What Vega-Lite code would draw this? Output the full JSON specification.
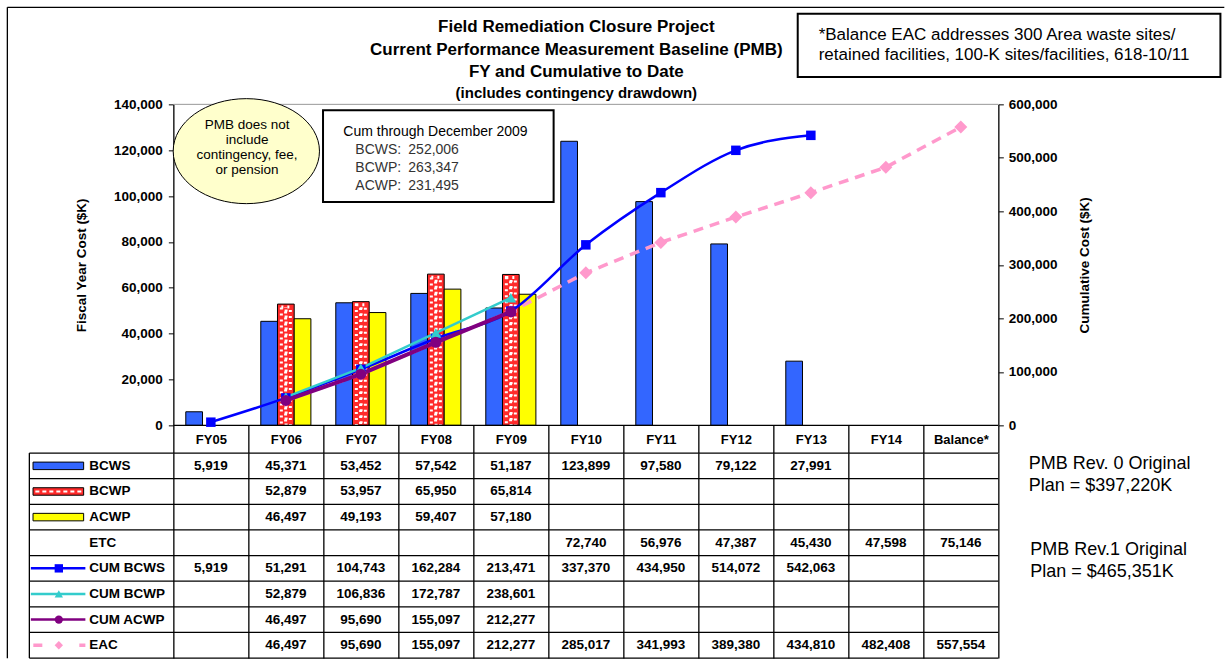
{
  "$schema": "https://vega.github.io/schema/vega-lite/v6.json",
  "padding": {"left": 6.35, "top": 6.35, "right": 0, "bottom": 0},
  "background": "white",
  "config": {
    "view": {"stroke": null},
    "font": "Liberation Sans",
    "axis": {"labelFont": "Liberation Sans", "titleFont": "Liberation Sans", "labelColor": "black", "titleColor": "black", "domainColor": "black", "tickColor": "black"}
  },
  "datasets": {
    "vals": [
      {"series": "BCWS", "fy": "FY05", "v": 5919}, {"series": "BCWS", "fy": "FY06", "v": 45371}, {"series": "BCWS", "fy": "FY07", "v": 53452}, {"series": "BCWS", "fy": "FY08", "v": 57542}, {"series": "BCWS", "fy": "FY09", "v": 51187}, {"series": "BCWS", "fy": "FY10", "v": 123899}, {"series": "BCWS", "fy": "FY11", "v": 97580}, {"series": "BCWS", "fy": "FY12", "v": 79122}, {"series": "BCWS", "fy": "FY13", "v": 27991},
      {"series": "BCWP", "fy": "FY06", "v": 52879}, {"series": "BCWP", "fy": "FY07", "v": 53957}, {"series": "BCWP", "fy": "FY08", "v": 65950}, {"series": "BCWP", "fy": "FY09", "v": 65814},
      {"series": "ACWP", "fy": "FY06", "v": 46497}, {"series": "ACWP", "fy": "FY07", "v": 49193}, {"series": "ACWP", "fy": "FY08", "v": 59407}, {"series": "ACWP", "fy": "FY09", "v": 57180},
      {"series": "ETC", "fy": "FY10", "v": 72740}, {"series": "ETC", "fy": "FY11", "v": 56976}, {"series": "ETC", "fy": "FY12", "v": 47387}, {"series": "ETC", "fy": "FY13", "v": 45430}, {"series": "ETC", "fy": "FY14", "v": 47598}, {"series": "ETC", "fy": "Balance*", "v": 75146},
      {"series": "CUM BCWS", "fy": "FY05", "v": 5919}, {"series": "CUM BCWS", "fy": "FY06", "v": 51291}, {"series": "CUM BCWS", "fy": "FY07", "v": 104743}, {"series": "CUM BCWS", "fy": "FY08", "v": 162284}, {"series": "CUM BCWS", "fy": "FY09", "v": 213471}, {"series": "CUM BCWS", "fy": "FY10", "v": 337370}, {"series": "CUM BCWS", "fy": "FY11", "v": 434950}, {"series": "CUM BCWS", "fy": "FY12", "v": 514072}, {"series": "CUM BCWS", "fy": "FY13", "v": 542063},
      {"series": "CUM BCWP", "fy": "FY06", "v": 52879}, {"series": "CUM BCWP", "fy": "FY07", "v": 106836}, {"series": "CUM BCWP", "fy": "FY08", "v": 172787}, {"series": "CUM BCWP", "fy": "FY09", "v": 238601},
      {"series": "CUM ACWP", "fy": "FY06", "v": 46497}, {"series": "CUM ACWP", "fy": "FY07", "v": 95690}, {"series": "CUM ACWP", "fy": "FY08", "v": 155097}, {"series": "CUM ACWP", "fy": "FY09", "v": 212277},
      {"series": "EAC", "fy": "FY06", "v": 46497}, {"series": "EAC", "fy": "FY07", "v": 95690}, {"series": "EAC", "fy": "FY08", "v": 155097}, {"series": "EAC", "fy": "FY09", "v": 212277}, {"series": "EAC", "fy": "FY10", "v": 285017}, {"series": "EAC", "fy": "FY11", "v": 341993}, {"series": "EAC", "fy": "FY12", "v": 389380}, {"series": "EAC", "fy": "FY13", "v": 434810}, {"series": "EAC", "fy": "FY14", "v": 482408}, {"series": "EAC", "fy": "Balance*", "v": 557554}
    ],
    "rows": [
      {"s": "BCWS", "kind": "bar"}, {"s": "BCWP", "kind": "bar"}, {"s": "ACWP", "kind": "bar"}, {"s": "ETC", "kind": "none"},
      {"s": "CUM BCWS", "kind": "line"}, {"s": "CUM BCWP", "kind": "line"}, {"s": "CUM ACWP", "kind": "line"}, {"s": "EAC", "kind": "dash"}
    ]
  },
  "spacing": 27.7,
  "bounds": "flush",
  "vconcat": [
    {
      "width": 975,
      "height": 321,
      "layer": [
        {
          "layer": [
            {
              "data": {"name": "vals"},
              "transform": [{"filter": {"field": "series", "oneOf": ["BCWS", "BCWP", "ACWP"]}}],
              "mark": {"type": "bar", "stroke": "black", "strokeWidth": 1},
              "encoding": {
                "x": {"field": "fy", "type": "nominal", "sort": null,
                  "scale": {"domain": ["sw", "lbl", "FY05", "FY06", "FY07", "FY08", "FY09", "FY10", "FY11", "FY12", "FY13", "FY14", "Balance*"], "paddingInner": 0, "paddingOuter": 0},
                  "axis": {"values": ["FY05", "FY06", "FY07", "FY08", "FY09", "FY10", "FY11", "FY12", "FY13", "FY14", "Balance*"], "tickBand": "extent", "tickSize": 27.7, "tickWidth": 1.3, "labelPadding": -20, "domain": false, "title": null, "labelAngle": 0, "labelFontSize": 13, "labelFontWeight": "bold", "labelOverlap": false, "grid": false}},
                "xOffset": {"field": "series", "type": "nominal", "scale": {"domain": ["BCWS", "BCWP", "ACWP"], "paddingInner": 0, "paddingOuter": 0.745}},
                "y": {"field": "v", "type": "quantitative", "scale": {"domain": [0, 140000], "nice": false},
                  "axis": {"offset": -150, "values": [0, 20000, 40000, 60000, 80000, 100000, 120000, 140000], "format": ",", "labelExpr": "format(datum.value, ',')", "title": "Fiscal Year Cost ($K)", "titleFontSize": 13.5, "titleFontWeight": "bold", "labelFontSize": 13.5, "labelFontWeight": "bold", "tickSize": 5, "labelPadding": 6, "titlePadding": 25, "grid": false, "domainWidth": 1.3}},
                "color": {"field": "series", "type": "nominal", "legend": null,
                  "scale": {"domain": ["BCWS", "BCWP", "ACWP", "ETC", "CUM BCWS", "CUM BCWP", "CUM ACWP", "EAC"], "range": ["#3366FF", "#FF2A2A", "#FFFF00", "#FFFFFF", "#0000FF", "#33CCCC", "#800080", "#FF99CC"]}}
              }
            },
            {
              "data": {"name": "vals"},
              "transform": [{"filter": "datum.series == 'BCWP'"}],
              "mark": {"type": "bar", "width": 9, "fill": "transparent", "stroke": "white", "strokeWidth": 3, "strokeDash": [2, 4], "yOffset": 3, "y2Offset": -2},
              "encoding": {
                "x": {"field": "fy", "type": "nominal"},
                "xOffset": {"field": "series", "type": "nominal"},
                "y": {"field": "v", "type": "quantitative"}
              }
            },
            {
              "data": {"name": "vals"},
              "transform": [{"filter": "datum.series == 'BCWP'"}],
              "mark": {"type": "bar", "width": 0.5, "fill": "transparent", "stroke": "white", "strokeWidth": 3, "strokeDash": [2, 4], "strokeDashOffset": 3, "yOffset": 3, "y2Offset": -2},
              "encoding": {
                "x": {"field": "fy", "type": "nominal"},
                "xOffset": {"field": "series", "type": "nominal"},
                "y": {"field": "v", "type": "quantitative"}
              }
            },
            {
              "data": {"values": [{}]},
              "mark": {"type": "rule", "color": "#999999", "strokeWidth": 1},
              "encoding": {"x": {"datum": "FY05", "bandPosition": 0}, "x2": {"datum": "Balance*", "bandPosition": 1}, "y": {"datum": 140000}}
            },
            {
              "data": {"values": [{}]},
              "mark": {"type": "rule", "color": "black", "strokeWidth": 1.3},
              "encoding": {"x": {"datum": "FY05", "bandPosition": 0}, "x2": {"datum": "Balance*", "bandPosition": 1}, "y": {"datum": 0}}
            },
            {
              "data": {"values": [{}]},
              "mark": {"type": "rule", "color": "black", "strokeWidth": 1.3},
              "encoding": {"x": {"datum": "sw", "bandPosition": -0.2133}, "x2": {"datum": "Balance*", "bandPosition": 4.013}, "y": {"datum": 182305}}
            },
            {
              "data": {"values": [{}]},
              "mark": {"type": "rule", "color": "black", "strokeWidth": 1.3},
              "encoding": {"x": {"datum": "sw", "bandPosition": -0.2133}, "y": {"datum": 182305}, "y2": {"datum": -101600}}
            },
            {
              "data": {"values": [{}]},
              "mark": {"type": "point", "shape": "M-1,0A1,0.7177,0,1,1,1,0A1,0.7177,0,1,1,-1,0Z", "size": 21404, "filled": true, "fill": "#FFFFCC", "stroke": "black", "strokeWidth": 1, "opacity": 1},
              "encoding": {"x": {"datum": "FY05", "bandPosition": 0.973}, "y": {"datum": 119589}}
            },
            {
              "data": {"values": [{}]},
              "mark": {"type": "text", "text": ["PMB does not", "include", "contingency, fee,", "or pension"], "fontSize": 13.5, "lineHeight": 15, "align": "center", "baseline": "middle", "color": "black"},
              "encoding": {"x": {"datum": "FY05", "bandPosition": 0.983}, "y": {"datum": 130841}}
            },
            {
              "data": {"values": [{}]},
              "mark": {"type": "point", "shape": "M-1,-0.3977H1V0.3977H-1Z", "size": 53176, "filled": true, "fill": "white", "stroke": "black", "strokeWidth": 2, "opacity": 1},
              "encoding": {"x": {"datum": "FY08", "bandPosition": 0.533}, "y": {"datum": 117386}}
            },
            {
              "data": {"values": [{}]},
              "mark": {"type": "text", "text": "Cum through December 2009", "fontSize": 14, "align": "left", "baseline": "middle", "color": "black"},
              "encoding": {"x": {"datum": "FY07", "bandPosition": 0.267}, "y": {"datum": 127919}}
            },
            {
              "data": {"values": [{}]},
              "mark": {"type": "text", "text": ["BCWS:", "BCWP:", "ACWP:"], "fontSize": 14, "lineHeight": 18.3, "align": "left", "baseline": "middle", "color": "#333333"},
              "encoding": {"x": {"datum": "FY07", "bandPosition": 0.427}, "y": {"datum": 120243}}
            },
            {
              "data": {"values": [{}]},
              "mark": {"type": "text", "text": ["252,006", "263,347", "231,495"], "fontSize": 14, "lineHeight": 18.3, "align": "left", "baseline": "middle", "color": "#333333"},
              "encoding": {"x": {"datum": "FY08", "bandPosition": 0.133}, "y": {"datum": 120243}}
            },
            {
              "data": {"values": [{}]},
              "mark": {"type": "point", "shape": "M-1,-0.15H1V0.15H-1Z", "size": 178675, "filled": true, "fill": "white", "stroke": "black", "strokeWidth": 2, "opacity": 1},
              "encoding": {"x": {"datum": "Balance*", "bandPosition": 1.143}, "y": {"datum": 165732}}
            },
            {
              "data": {"values": [{}]},
              "mark": {"type": "text", "text": ["*Balance EAC addresses 300 Area waste sites/", "retained facilities, 100-K sites/facilities, 618-10/11"], "fontSize": 17, "lineHeight": 20, "align": "left", "baseline": "middle", "color": "black"},
              "encoding": {"x": {"datum": "FY13", "bandPosition": 0.604}, "y": {"datum": 170093}}
            },
            {
              "data": {"values": [{}]},
              "mark": {"type": "text", "text": ["Field Remediation Closure Project", "Current Performance Measurement Baseline (PMB)", "FY and Cumulative to Date"], "fontSize": 17, "fontWeight": "bold", "lineHeight": 22.5, "align": "center", "baseline": "middle", "color": "black"},
              "encoding": {"x": {"datum": "FY10", "bandPosition": 0.373}, "y": {"datum": 173583}}
            },
            {
              "data": {"values": [{}]},
              "mark": {"type": "text", "text": "(includes contingency drawdown)", "fontSize": 15, "fontWeight": "bold", "align": "center", "baseline": "middle", "color": "black"},
              "encoding": {"x": {"datum": "FY10", "bandPosition": 0.373}, "y": {"datum": 144797}}
            }
          ]
        },
        {
          "layer": [
            {
              "data": {"name": "vals"},
              "transform": [{"filter": "datum.series == 'EAC'"}],
              "mark": {"type": "line", "color": "#FF99CC", "strokeWidth": 3.5, "strokeDash": [10, 7]},
              "encoding": {
                "x": {"field": "fy", "type": "nominal"},
                "y": {"field": "v", "type": "quantitative", "scale": {"domain": [0, 600000], "nice": false},
                  "axis": {"orient": "right", "values": [0, 100000, 200000, 300000, 400000, 500000, 600000], "format": ",", "labelExpr": "format(datum.value, ',')", "title": "Cumulative Cost ($K)", "titleAngle": 270, "titleBaseline": "top", "titleFontSize": 13.5, "titleFontWeight": "bold", "labelFontSize": 13.5, "labelFontWeight": "bold", "tickSize": 5, "labelPadding": 5, "titlePadding": 20, "grid": false, "domainWidth": 1.3}}
              }
            },
            {
              "data": {"name": "vals"},
              "transform": [{"filter": "datum.series == 'EAC'"}],
              "mark": {"type": "point", "shape": "diamond", "size": 169, "filled": true, "color": "#FF99CC", "opacity": 1},
              "encoding": {"x": {"field": "fy", "type": "nominal"}, "y": {"field": "v", "type": "quantitative"}}
            },
            {
              "data": {"name": "vals"},
              "transform": [{"filter": "datum.series == 'CUM BCWS'"}],
              "mark": {"type": "line", "color": "#0000FF", "strokeWidth": 2.5, "interpolate": "monotone"},
              "encoding": {"x": {"field": "fy", "type": "nominal"}, "y": {"field": "v", "type": "quantitative"}}
            },
            {
              "data": {"name": "vals"},
              "transform": [{"filter": "datum.series == 'CUM BCWP'"}],
              "mark": {"type": "line", "color": "#33CCCC", "strokeWidth": 2.5},
              "encoding": {"x": {"field": "fy", "type": "nominal"}, "y": {"field": "v", "type": "quantitative"}}
            },
            {
              "data": {"name": "vals"},
              "transform": [{"filter": "datum.series == 'CUM ACWP'"}],
              "mark": {"type": "line", "color": "#800080", "strokeWidth": 4},
              "encoding": {"x": {"field": "fy", "type": "nominal"}, "y": {"field": "v", "type": "quantitative"}}
            },
            {
              "data": {"name": "vals"},
              "transform": [{"filter": "datum.series == 'CUM BCWS'"}],
              "mark": {"type": "point", "shape": "square", "size": 90, "filled": true, "color": "#0000FF", "opacity": 1},
              "encoding": {"x": {"field": "fy", "type": "nominal"}, "y": {"field": "v", "type": "quantitative"}}
            },
            {
              "data": {"name": "vals"},
              "transform": [{"filter": "datum.series == 'CUM BCWP'"}],
              "mark": {"type": "point", "shape": "triangle-up", "size": 120, "filled": true, "color": "#33CCCC", "opacity": 1},
              "encoding": {"x": {"field": "fy", "type": "nominal"}, "y": {"field": "v", "type": "quantitative"}}
            },
            {
              "data": {"name": "vals"},
              "transform": [{"filter": "datum.series == 'CUM ACWP'"}],
              "mark": {"type": "point", "shape": "circle", "size": 121, "filled": true, "color": "#800080", "opacity": 1},
              "encoding": {"x": {"field": "fy", "type": "nominal"}, "y": {"field": "v", "type": "quantitative"}}
            }
          ]
        }
      ],
      "resolve": {"scale": {"y": "independent"}}
    },
    {
      "width": 975,
      "height": 205,
      "layer": [
        {
          "data": {"name": "vals"},
          "mark": {"type": "text", "fontWeight": "bold", "fontSize": 13.5, "color": "black"},
          "encoding": {
            "x": {"field": "fy", "type": "nominal", "sort": null,
              "scale": {"domain": ["sw", "lbl", "FY05", "FY06", "FY07", "FY08", "FY09", "FY10", "FY11", "FY12", "FY13", "FY14", "Balance*"], "paddingInner": 0, "paddingOuter": 0},
              "axis": {"orient": "top", "grid": true, "tickBand": "extent", "values": ["FY05", "FY06", "FY07", "FY08", "FY09", "FY10", "FY11", "FY12", "FY13", "FY14", "Balance*"], "labels": false, "ticks": false, "domain": false, "title": null, "gridColor": "black", "gridWidth": 1.3, "gridOpacity": 1}},
            "y": {"field": "series", "type": "nominal", "sort": null,
              "scale": {"domain": ["BCWS", "BCWP", "ACWP", "ETC", "CUM BCWS", "CUM BCWP", "CUM ACWP", "EAC"], "paddingInner": 0, "paddingOuter": 0},
              "axis": null},
            "text": {"field": "v", "type": "quantitative", "format": ","}
          }
        },
        {
          "data": {"name": "rows"},
          "mark": {"type": "rule", "color": "black", "strokeWidth": 1.3},
          "encoding": {
            "x": {"datum": "sw", "bandPosition": 0.08},
            "x2": {"datum": "Balance*", "bandPosition": 1},
            "y": {"field": "s", "type": "nominal", "bandPosition": 0}
          }
        },
        {
          "data": {"values": [{}]},
          "mark": {"type": "rule", "color": "black", "strokeWidth": 1.3},
          "encoding": {
            "x": {"datum": "sw", "bandPosition": 0.08},
            "x2": {"datum": "Balance*", "bandPosition": 1},
            "y": {"datum": "EAC", "bandPosition": 1}
          }
        },
        {
          "data": {"values": [{}]},
          "mark": {"type": "rule", "color": "black", "strokeWidth": 1.3},
          "encoding": {"x": {"datum": "sw", "bandPosition": 0.08}}
        },
        {
          "data": {"name": "rows"},
          "mark": {"type": "text", "fontWeight": "bold", "fontSize": 13.5, "align": "left", "baseline": "middle", "color": "black"},
          "encoding": {
            "x": {"datum": "lbl", "bandPosition": -0.12},
            "y": {"field": "s", "type": "nominal"},
            "text": {"field": "s", "type": "nominal"}
          }
        },
        {
          "data": {"name": "rows"},
          "transform": [{"filter": "datum.kind == 'bar'"}],
          "mark": {"type": "bar", "height": 7.5, "stroke": "black", "strokeWidth": 1},
          "encoding": {
            "x": {"datum": "sw", "bandPosition": 0.129},
            "x2": {"datum": "sw", "bandPosition": 0.804},
            "y": {"field": "s", "type": "nominal"},
            "color": {"field": "s", "type": "nominal", "legend": null,
              "scale": {"domain": ["BCWS", "BCWP", "ACWP", "ETC", "CUM BCWS", "CUM BCWP", "CUM ACWP", "EAC"], "range": ["#3366FF", "#FF2A2A", "#FFFF00", "#FFFFFF", "#0000FF", "#33CCCC", "#800080", "#FF99CC"]}}
          }
        },
        {
          "data": {"name": "rows"},
          "transform": [{"filter": "datum.s == 'BCWP'"}],
          "mark": {"type": "rule", "strokeWidth": 2, "strokeDash": [4, 3], "color": "white"},
          "encoding": {
            "x": {"datum": "sw", "bandPosition": 0.16},
            "x2": {"datum": "sw", "bandPosition": 0.78},
            "y": {"field": "s", "type": "nominal"}
          }
        },
        {
          "data": {"name": "rows"},
          "transform": [{"filter": "datum.kind == 'line'"}],
          "mark": {"type": "rule", "strokeWidth": 2.5},
          "encoding": {
            "x": {"datum": "sw", "bandPosition": 0.1},
            "x2": {"datum": "sw", "bandPosition": 0.827},
            "y": {"field": "s", "type": "nominal"},
            "color": {"field": "s", "type": "nominal", "legend": null}
          }
        },
        {
          "data": {"name": "rows"},
          "transform": [{"filter": "datum.kind == 'dash'"}],
          "mark": {"type": "rule", "strokeWidth": 3.5, "strokeDash": [9, 37], "color": "#FF99CC"},
          "encoding": {
            "x": {"datum": "sw", "bandPosition": 0.133},
            "x2": {"datum": "sw", "bandPosition": 0.827},
            "y": {"field": "s", "type": "nominal"}
          }
        },
        {
          "data": {"name": "rows"},
          "transform": [{"filter": "datum.kind == 'line' || datum.kind == 'dash'"}],
          "mark": {"type": "point", "filled": true, "size": 70, "opacity": 1},
          "encoding": {
            "x": {"datum": "sw", "bandPosition": 0.473},
            "y": {"field": "s", "type": "nominal"},
            "color": {"field": "s", "type": "nominal", "legend": null},
            "shape": {"field": "s", "type": "nominal", "legend": null, "scale": {"domain": ["CUM BCWS", "CUM BCWP", "CUM ACWP", "EAC"], "range": ["square", "triangle-up", "circle", "diamond"]}}
          }
        },
        {
          "data": {"values": [{}]},
          "mark": {"type": "text", "text": ["PMB Rev. 0 Original", "Plan = $397,220K"], "fontSize": 18, "lineHeight": 21.7, "align": "left", "baseline": "middle", "color": "black"},
          "encoding": {"x": {"datum": "Balance*", "bandPosition": 1.407}, "y": {"datum": "BCWS", "bandPosition": 0.44}}
        },
        {
          "data": {"values": [{}]},
          "mark": {"type": "text", "text": ["PMB Rev.1 Original", "Plan = $465,351K"], "fontSize": 18, "lineHeight": 21.7, "align": "left", "baseline": "middle", "color": "black"},
          "encoding": {"x": {"datum": "Balance*", "bandPosition": 1.427}, "y": {"datum": "ETC", "bandPosition": 0.797}}
        }
      ]
    }
  ]
}
